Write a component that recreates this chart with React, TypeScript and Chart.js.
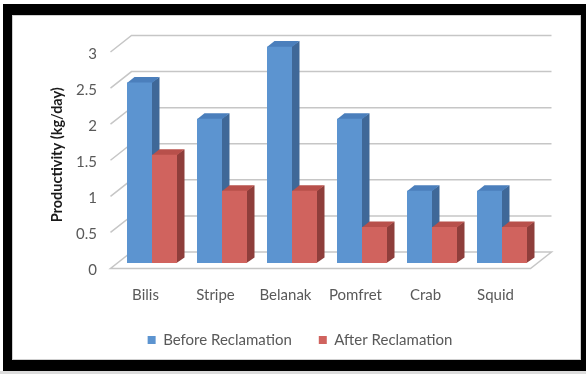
import React, { useEffect, useRef } from "react";
import { Chart, registerables } from "chart.js";

Chart.register(...registerables);

// ---- data ----
const categories = ["Bilis", "Stripe", "Belanak", "Pomfret", "Crab", "Squid"];
const beforeValues = [2.5, 2, 3, 2, 1, 1];
const afterValues = [1.5, 1, 1, 0.5, 0.5, 0.5];
const seriesNames = ["Before Reclamation", "After Reclamation"];
const yMin = 0;
const yMax = 3;
const yStep = 0.5;
const yTitle = "Productivity (kg/day)";

// ---- style ----
const FONT = "Lato, 'Open Sans', 'DejaVu Sans', sans-serif";
const TEXT_GRAY = "#595959";
const GRID = "#C6C6C6";
const BLUE = { front: "#5C94D0", side: "#3F6898", top: "#4B7FBC" };
const RED = { front: "#D0635E", side: "#8E3E3B", top: "#B8504B" };
const FRONT = { dx: -6.5, dy: 5.5 };
const BACK = { dx: 14.5, dy: -11 };
const BAR_D = { dx: 7.5, dy: -5.5 };

const pseudo3d = {
  id: "pseudo3d",
  beforeDatasetsDraw(chart: any) {
    const { ctx, chartArea, scales } = chart;
    const y = scales.y;
    const L = chartArea.left;
    const R = chartArea.right;
    ctx.save();
    ctx.strokeStyle = GRID;
    ctx.lineWidth = 1.5;
    ctx.lineJoin = "miter";
    // floor
    const y0 = y.getPixelForValue(0);
    ctx.fillStyle = "#ffffff";
    ctx.beginPath();
    ctx.moveTo(L + FRONT.dx, y0 + FRONT.dy);
    ctx.lineTo(R + FRONT.dx, y0 + FRONT.dy);
    ctx.lineTo(R + BACK.dx, y0 + BACK.dy);
    ctx.lineTo(L + BACK.dx, y0 + BACK.dy);
    ctx.closePath();
    ctx.fill();
    ctx.stroke();
    // wall grid lines
    y.ticks.forEach((t: any) => {
      if (t.value === 0) return;
      const py = y.getPixelForValue(t.value);
      ctx.beginPath();
      ctx.moveTo(L + FRONT.dx, py + FRONT.dy);
      ctx.lineTo(L + BACK.dx, py + BACK.dy);
      ctx.lineTo(R + BACK.dx, py + BACK.dy);
      ctx.stroke();
    });
    // bar side and top faces
    const palettes = [BLUE, RED];
    chart.data.datasets.forEach((_ds: any, di: number) => {
      const meta = chart.getDatasetMeta(di);
      const pal = palettes[di];
      meta.data.forEach((el: any) => {
        const p = el.getProps(["x", "y", "base", "width"], true);
        const left = p.x - p.width / 2;
        const right = p.x + p.width / 2;
        const top = p.y;
        const base = p.base;
        ctx.fillStyle = pal.side;
        ctx.beginPath();
        ctx.moveTo(right - 0.5, top);
        ctx.lineTo(right + BAR_D.dx, top + BAR_D.dy);
        ctx.lineTo(right + BAR_D.dx, base + BAR_D.dy);
        ctx.lineTo(right - 0.5, base);
        ctx.closePath();
        ctx.fill();
        ctx.fillStyle = pal.top;
        ctx.beginPath();
        ctx.moveTo(left, top + 0.5);
        ctx.lineTo(left + BAR_D.dx, top + BAR_D.dy);
        ctx.lineTo(right + BAR_D.dx, top + BAR_D.dy);
        ctx.lineTo(right, top + 0.5);
        ctx.closePath();
        ctx.fill();
      });
    });
    ctx.restore();
  },
};

export default function App() {
  const ref = useRef<HTMLCanvasElement | null>(null);

  useEffect(() => {
    if (!ref.current) return;
    const chart = new Chart(ref.current, {
      type: "bar",
      data: {
        labels: categories,
        datasets: [
          {
            label: seriesNames[0],
            data: beforeValues,
            backgroundColor: BLUE.front,
            borderWidth: 0,
            categoryPercentage: 50 / 70,
            barPercentage: 1,
          },
          {
            label: seriesNames[1],
            data: afterValues,
            backgroundColor: RED.front,
            borderWidth: 0,
            categoryPercentage: 50 / 70,
            barPercentage: 1,
          },
        ],
      },
      options: {
        responsive: false,
        animation: false,
        devicePixelRatio: 1,
        layout: { padding: { left: 63, right: 49, top: 46.5, bottom: 16.5 } },
        plugins: {
          tooltip: { enabled: false },
          legend: {
            position: "bottom",
            labels: {
              boxWidth: 8,
              boxHeight: 8,
              padding: 27,
              color: TEXT_GRAY,
              font: { family: FONT, size: 15 },
            },
          },
        },
        scales: {
          x: {
            grid: { display: false, drawTicks: false },
            border: { display: false },
            ticks: {
              color: TEXT_GRAY,
              font: { family: FONT, size: 15 },
              padding: 23,
              labelOffset: FRONT.dx,
            },
            afterFit: (s: any) => {
              s.height = 42.5;
            },
          },
          y: {
            min: yMin,
            max: yMax,
            grid: { display: false, drawTicks: false },
            border: { display: false },
            ticks: {
              stepSize: yStep,
              color: TEXT_GRAY,
              font: { family: FONT, size: 15 },
              padding: 20,
              labelOffset: 7.5,
              callback: (v: any) => String(v),
            },
            title: {
              display: true,
              text: yTitle,
              color: "#1a1a1a",
              font: { family: FONT, size: 14.5, weight: "bold" },
              padding: { top: -14.7, bottom: 0 },
            },
            afterFit: (s: any) => {
              s.width = 54;
            },
          },
        },
      },
      plugins: [pseudo3d],
    } as any);
    return () => chart.destroy();
  }, []);

  return (
    <div
      style={{
        position: "absolute",
        left: 0,
        top: 0,
        width: 586,
        height: 374,
        background: "#ffffff",
        overflow: "hidden",
      }}
    >
      <div
        style={{
          position: "absolute",
          left: 3,
          top: 4,
          width: 583,
          height: 367,
          background: "#000000",
        }}
      />
      <div
        style={{
          position: "absolute",
          left: 0,
          top: 371,
          width: 586,
          height: 3,
          background: "#dcdcdc",
        }}
      />
      <div
        style={{
          position: "absolute",
          left: 12,
          top: 15,
          width: 569,
          height: 345,
          boxSizing: "border-box",
          background: "#ffffff",
          border: "1px solid #cfcfcf",
        }}
      />
      <canvas
        ref={ref}
        width={586}
        height={374}
        style={{ position: "absolute", left: 0, top: 0, width: 586, height: 374 }}
      />
    </div>
  );
}
